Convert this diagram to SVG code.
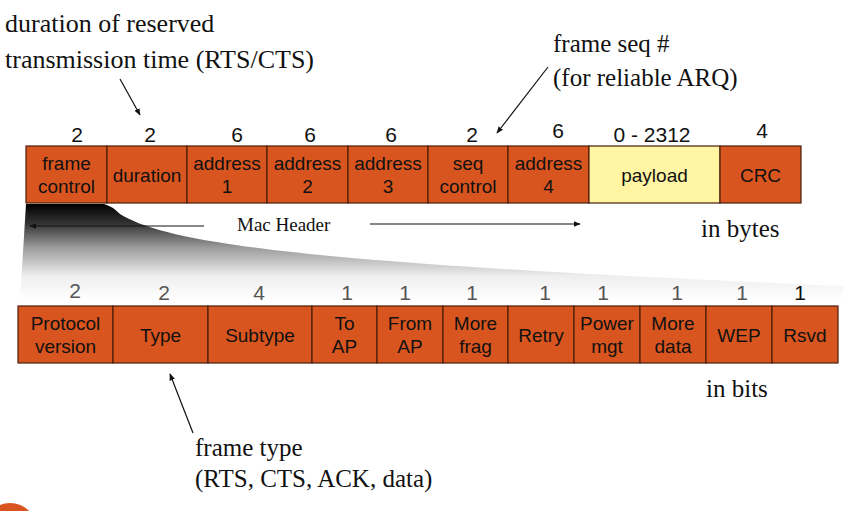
<svg xmlns="http://www.w3.org/2000/svg" width="843" height="511" viewBox="0 0 843 511">
<style>
.cell{fill:#d9551f;stroke:#4a1e0a;stroke-width:1.2}
.pay{fill:#fff5a3;stroke:#4a1e0a;stroke-width:1.2}
.t{font-family:"Liberation Sans",Arial,sans-serif;font-size:19px;fill:#111;text-anchor:middle}
.n{font-family:"Liberation Sans",Arial,sans-serif;font-size:21px;fill:#111;text-anchor:middle}
.ng{font-family:"Liberation Sans",Arial,sans-serif;font-size:21px;fill:#555;text-anchor:middle}
.s{font-family:"Liberation Serif","Times New Roman",serif;font-size:25px;fill:#111}
.big{font-size:26px}
.small{font-size:19px}
.line{stroke:#111;stroke-width:1.2;fill:none;marker-end:url(#ah)}
</style>
<defs>
<marker id="ah" viewBox="0 0 10 10" refX="9" refY="5" markerWidth="7" markerHeight="7" orient="auto" markerUnits="userSpaceOnUse">
<path d="M0,1 L10,5 L0,9 Z" fill="#111"/>
</marker>
<linearGradient id="fade" gradientUnits="userSpaceOnUse" x1="0" y1="204" x2="0" y2="300">
<stop offset="0" stop-color="#000"/>
<stop offset="0.2" stop-color="#333"/>
<stop offset="0.45" stop-color="#9a9a9a"/>
<stop offset="0.75" stop-color="#eeeeee"/>
<stop offset="1" stop-color="#fff"/>
</linearGradient>
</defs>
<rect width="843" height="511" fill="#fff"/>

<g id="expand">
<path d="M26,204 L104,204 Q112,206 120,214 C170,245 320,264 843,286 L843,300 L20,300 Z" fill="url(#fade)"/>
</g>

<g id="annotations">
<text class="s big" x="5" y="32">duration of reserved</text>
<text class="s big" x="5" y="68">transmission time (RTS/CTS)</text>
<text class="s" x="553" y="52">frame seq #</text>
<text class="s" x="553" y="86">(for reliable ARQ)</text>
<text class="s small" x="237" y="231">Mac Header</text>
<text class="s" x="701" y="237">in bytes</text>
<text class="s" x="706" y="397">in bits</text>
<text class="s" x="195" y="456">frame type</text>
<text class="s" x="195" y="487">(RTS, CTS, ACK, data)</text>
</g>

<g id="connectors">
<line class="line" x1="120" y1="79" x2="140" y2="115"/>
<line class="line" x1="548" y1="67" x2="497" y2="133"/>
<line class="line" x1="193" y1="433" x2="170" y2="374"/>
<line class="line" x1="204" y1="226" x2="30" y2="226"/>
<line class="line" x1="370" y1="224" x2="580" y2="224"/>
</g>

<g id="mac-frame">
<g id="f-frame-control"><rect class="cell" x="26" y="146" width="81" height="57"/><text class="n" x="77" y="142">2</text><text class="t" x="66.5" y="170">frame</text><text class="t" x="66.5" y="193">control</text></g>
<g id="f-duration"><rect class="cell" x="107" y="146" width="80" height="57"/><text class="n" x="150" y="142">2</text><text class="t" x="147" y="182">duration</text></g>
<g id="f-address1"><rect class="cell" x="187" y="146" width="80" height="57"/><text class="n" x="237" y="142">6</text><text class="t" x="227" y="170">address</text><text class="t" x="227" y="193">1</text></g>
<g id="f-address2"><rect class="cell" x="267" y="146" width="81" height="57"/><text class="n" x="310" y="142">6</text><text class="t" x="307.5" y="170">address</text><text class="t" x="307.5" y="193">2</text></g>
<g id="f-address3"><rect class="cell" x="348" y="146" width="80" height="57"/><text class="n" x="391" y="142">6</text><text class="t" x="388" y="170">address</text><text class="t" x="388" y="193">3</text></g>
<g id="f-seq-control"><rect class="cell" x="428" y="146" width="80" height="57"/><text class="n" x="472" y="142">2</text><text class="t" x="468" y="170">seq</text><text class="t" x="468" y="193">control</text></g>
<g id="f-address4"><rect class="cell" x="508" y="146" width="81" height="57"/><text class="n" x="558" y="138">6</text><text class="t" x="548.5" y="170">address</text><text class="t" x="548.5" y="193">4</text></g>
<g id="f-payload"><rect class="pay" x="589" y="146" width="131" height="57"/><text class="n" x="652" y="142">0 - 2312</text><text class="t" x="654.5" y="182">payload</text></g>
<g id="f-crc"><rect class="cell" x="720" y="146" width="81" height="57"/><text class="n" x="762" y="138">4</text><text class="t" x="760.5" y="182">CRC</text></g>
</g>

<g id="frame-control-bits">
<g id="b-protocol"><rect class="cell" x="18" y="306" width="95" height="57"/><text class="ng" x="75" y="298">2</text><text class="t" x="65.5" y="330">Protocol</text><text class="t" x="65.5" y="353">version</text></g>
<g id="b-type"><rect class="cell" x="113" y="306" width="95" height="57"/><text class="ng" x="164" y="300">2</text><text class="t" x="160.5" y="342">Type</text></g>
<g id="b-subtype"><rect class="cell" x="208" y="306" width="104" height="57"/><text class="ng" x="259" y="300">4</text><text class="t" x="260" y="342">Subtype</text></g>
<g id="b-toap"><rect class="cell" x="312" y="306" width="65" height="57"/><text class="ng" x="347" y="300">1</text><text class="t" x="344.5" y="330">To</text><text class="t" x="344.5" y="353">AP</text></g>
<g id="b-fromap"><rect class="cell" x="377" y="306" width="66" height="57"/><text class="ng" x="405" y="300">1</text><text class="t" x="410" y="330">From</text><text class="t" x="410" y="353">AP</text></g>
<g id="b-morefrag"><rect class="cell" x="443" y="306" width="65" height="57"/><text class="ng" x="472" y="300">1</text><text class="t" x="475.5" y="330">More</text><text class="t" x="475.5" y="353">frag</text></g>
<g id="b-retry"><rect class="cell" x="508" y="306" width="66" height="57"/><text class="ng" x="545" y="300">1</text><text class="t" x="541" y="342">Retry</text></g>
<g id="b-power"><rect class="cell" x="574" y="306" width="66" height="57"/><text class="ng" x="603" y="300">1</text><text class="t" x="607" y="330">Power</text><text class="t" x="607" y="353">mgt</text></g>
<g id="b-moredata"><rect class="cell" x="640" y="306" width="66" height="57"/><text class="ng" x="677" y="300">1</text><text class="t" x="673" y="330">More</text><text class="t" x="673" y="353">data</text></g>
<g id="b-wep"><rect class="cell" x="706" y="306" width="66" height="57"/><text class="ng" x="742" y="300">1</text><text class="t" x="739" y="342">WEP</text></g>
<g id="b-rsvd"><rect class="cell" x="772" y="306" width="66" height="57"/><text class="n" x="800" y="300">1</text><text class="t" x="805" y="342">Rsvd</text></g>
</g>

<circle cx="10" cy="530" r="27" fill="#d9551f"/>
</svg>
